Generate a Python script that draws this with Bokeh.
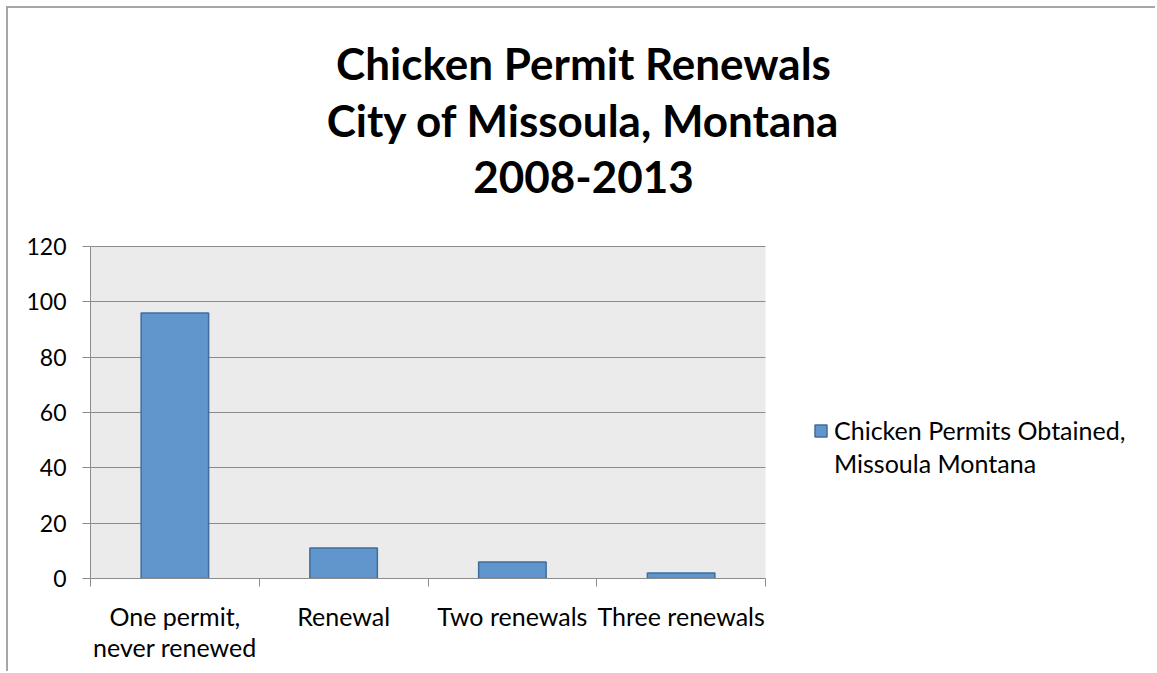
from bokeh.plotting import figure
from bokeh.models import (Range1d, FixedTicker, Legend, LegendItem, ColumnDataSource,
                          Label, BoxAnnotation)
from bokeh.embed import file_html
from bokeh.resources import INLINE

# ---- data ----
categories = ["One permit, never renewed", "Renewal", "Two renewals", "Three renewals"]
tick_labels = ["One permit,\nnever renewed", "Renewal", "Two renewals", "Three renewals"]
permits = [96, 11, 6, 2]
series_name = ["Chicken Permits Obtained,", "Missoula Montana"]
title_lines = ["Chicken Permit Renewals", "City of Missoula, Montana", "2008-2013"]
y_ticks = [0, 20, 40, 60, 80, 100, 120]

FONT = "Lato"
GRAY = "#8C8C8C"

# ---- layout geometry (pixels) ----
FIG_W, FIG_H = 1149, 665
BORDER_L, BORDER_B = 82, 95
PLOT_W, PLOT_H = 675, 332            # visible grey plot area
FRAME_W = FIG_W - BORDER_L
FRAME_H = FIG_H - BORDER_B

n = len(categories)
y_max = y_ticks[-1]
x_end = n * FRAME_W / PLOT_W          # frame extends right to host the legend
y_end = y_max * FRAME_H / PLOT_H      # and up to host the title

xs = [i + 0.5 for i in range(n)]
src = ColumnDataSource(data=dict(x=xs, top=permits, cat=categories))

p = figure(width=FIG_W, height=FIG_H, output_backend="svg", toolbar_location=None,
           x_range=Range1d(0, x_end), y_range=Range1d(0, y_end),
           min_border_left=BORDER_L, min_border_right=0, min_border_top=0,
           min_border_bottom=BORDER_B)
p.styles = {"margin-left": "6px", "margin-top": "6px",
            "border-top": "2px solid #A6A6A6", "border-left": "2px solid #A6A6A6"}
p.title.visible = False
p.background_fill_color = "white"
p.border_fill_color = "white"
p.outline_line_color = None

# grey plot area
p.add_layout(BoxAnnotation(left=0, right=n, bottom=0, top=y_max, fill_color="#EBEBEB",
                           fill_alpha=1, line_color=None, level="image"))

bars = p.vbar(x="x", top="top", width=0.4, source=src,
              fill_color="#6096CB", line_color="#3F6E9E", line_width=1.5)
blank = p.vbar(x=[], top=[], width=0.4, fill_alpha=0, line_alpha=0)

# grid lines limited to the plot area
p.xgrid.grid_line_color = None
p.ygrid.ticker = FixedTicker(ticks=y_ticks)
p.ygrid.grid_line_color = GRAY
p.ygrid.grid_line_width = 1
try:
    p.ygrid.cross_bounds = (0, n)
except AttributeError:
    p.ygrid.visible = False
    p.segment(x0=[0] * (len(y_ticks) - 1), x1=[n] * (len(y_ticks) - 1),
              y0=y_ticks[1:], y1=y_ticks[1:], line_color=GRAY, line_width=1,
              level="underlay")

# y axis
p.yaxis.ticker = FixedTicker(ticks=y_ticks, minor_ticks=[])
p.yaxis.bounds = (0, y_max)
p.yaxis.axis_line_color = GRAY
p.yaxis.major_tick_line_color = GRAY
p.yaxis.major_tick_out = 8
p.yaxis.major_tick_in = 0
p.yaxis.major_label_standoff = 16
p.yaxis.major_label_text_font = FONT
p.yaxis.major_label_text_font_size = "23px"
p.yaxis.major_label_text_color = "black"

# x axis: labels centred under bars, ticks at the category boundaries
p.xaxis.ticker = FixedTicker(ticks=xs, minor_ticks=list(range(n + 1)))
p.xaxis.bounds = (0, n)
p.xaxis.major_label_overrides = {x: lab for x, lab in zip(xs, tick_labels)}
p.xaxis.axis_line_color = GRAY
p.xaxis.major_tick_line_color = None
p.xaxis.major_tick_out = 7
p.xaxis.major_tick_in = 0
p.xaxis.minor_tick_line_color = GRAY
p.xaxis.minor_tick_out = 8
p.xaxis.minor_tick_in = 0
p.xaxis.major_label_standoff = 14
p.xaxis.major_label_text_font = FONT
p.xaxis.major_label_text_font_size = "25px"
p.xaxis.major_label_text_color = "black"
p.xaxis.major_label_text_line_height = 1.05

# title lines (screen px relative to the frame's bottom-left corner)
for line, y in zip(title_lines, [516, 459, 402]):
    p.add_layout(Label(x=493, y=y, x_units="screen", y_units="screen", text=line,
                       text_align="center", text_baseline="alphabetic",
                       text_font=FONT, text_font_style="bold", text_font_size="44px",
                       text_color="black"))

legend = Legend(items=[LegendItem(label=series_name[0], renderers=[bars]),
                       LegendItem(label=series_name[1], renderers=[blank])],
                location=(723, 100), glyph_width=15, glyph_height=15,
                label_standoff=6, padding=0, margin=0, spacing=3,
                border_line_color=None, background_fill_alpha=0,
                label_text_font=FONT, label_text_color="black",
                label_text_font_size="25px")
p.add_layout(legend, "center")

open("out.html", "w").write(file_html(p, INLINE))
